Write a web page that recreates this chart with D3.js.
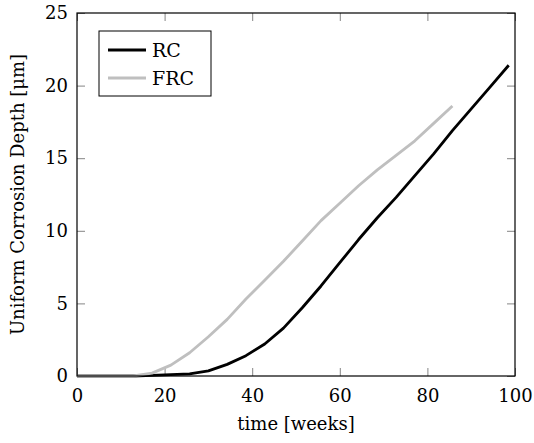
<!DOCTYPE html>
<html>
<head>
    <meta charset="utf-8">
    <title>Uniform Corrosion Depth</title>
    <script src="https://d3js.org/d3.v7.min.js" charset="utf-8"></script>
    <style type="text/css">
        body {
            margin: 0;
            background: #fff;
        }
        .line {
            fill: none;
            stroke-width: 2.8px;
            stroke-linejoin: round;
        }
    </style>
</head>
<body>
<script type="text/javascript">
    // time in weeks (one sample every 30 days)
    var weeksRC = [0, 4.29, 8.57, 12.86, 17.14, 21.43, 25.71, 30, 34.29, 38.57, 42.86, 47.14,
        51.43, 55.71, 60, 64.29, 68.57, 72.86, 77.14, 81.43, 85.71, 90, 94.29, 98.57];
    var depthRC = [0, 0, 0, 0, 0.05, 0.1, 0.15, 0.35, 0.8, 1.4, 2.2, 3.3,
        4.7, 6.2, 7.8, 9.4, 10.9, 12.3, 13.8, 15.3, 16.9, 18.4, 19.9, 21.4];

    var weeksFRC = weeksRC.slice(0, 21);
    var depthFRC = [0, 0, 0, 0, 0.2, 0.75, 1.6, 2.7, 3.9, 5.3, 6.6, 7.9,
        9.3, 10.7, 11.9, 13.1, 14.2, 15.2, 16.2, 17.4, 18.6];

    var xTicks = [0, 20, 40, 60, 80, 100];
    var yTicks = [0, 5, 10, 15, 20, 25];

    var series = [
        { name: "RC", color: "#000000", x: weeksRC, y: depthRC },
        { name: "FRC", color: "#bfbfbf", x: weeksFRC, y: depthFRC }
    ];

    var FONT = "DejaVu Serif";
    var FS = 18;

    var margin = { top: 13, right: 19, bottom: 67, left: 77 },
        width = 534 - margin.left - margin.right,
        height = 443 - margin.top - margin.bottom;

    var x = d3.scaleLinear().domain([0, 100]).range([0, width]);
    var y = d3.scaleLinear().domain([0, 25]).range([height, 0]);

    var svg = d3.select("body").append("svg")
        .attr("width", 534)
        .attr("height", 443)
        .attr("font-family", FONT);

    var g = svg.append("g")
        .attr("transform", "translate(" + margin.left + "," + margin.top + ")");

    var tickLen = 8;

    // bottom + left axes, ticks pointing inward
    g.append("g")
        .attr("transform", "translate(0," + height + ")")
        .call(d3.axisBottom(x).tickValues(xTicks).tickSize(-tickLen).tickPadding(13));
    g.append("g")
        .call(d3.axisLeft(y).tickValues(yTicks).tickSize(-tickLen).tickPadding(9));

    // mirrored ticks on top and right
    g.append("g")
        .call(d3.axisTop(x).tickValues(xTicks).tickSize(-tickLen).tickFormat(""));
    g.append("g")
        .attr("transform", "translate(" + width + ",0)")
        .call(d3.axisRight(y).tickValues(yTicks).tickSize(-tickLen).tickFormat(""));

    g.selectAll(".domain").remove();
    g.selectAll(".tick line").attr("stroke", "#777").attr("stroke-width", 0.9);
    g.selectAll(".tick text")
        .attr("fill", "#000")
        .attr("font-family", FONT)
        .attr("font-size", FS);

    var line = d3.line()
        .x(function (d) { return x(d[0]); })
        .y(function (d) { return y(d[1]); });

    series.forEach(function (s) {
        g.append("path")
            .datum(d3.zip(s.x, s.y))
            .attr("class", "line")
            .attr("stroke", s.color)
            .attr("d", line);
    });

    // frame
    g.append("rect")
        .attr("width", width)
        .attr("height", height)
        .attr("fill", "none")
        .attr("stroke", "#000")
        .attr("stroke-width", 1.2);

    // legend
    var legend = g.append("g")
        .attr("transform", "translate(22,18)");
    legend.append("rect")
        .attr("width", 112)
        .attr("height", 65)
        .attr("fill", "#fff")
        .attr("stroke", "#000")
        .attr("stroke-width", 1);
    series.forEach(function (s, i) {
        var ly = 19 + i * 28;
        legend.append("line")
            .attr("x1", 9).attr("x2", 47)
            .attr("y1", ly).attr("y2", ly)
            .attr("stroke", s.color)
            .attr("stroke-width", 2.8);
        legend.append("text")
            .attr("x", 53)
            .attr("y", ly + 7)
            .attr("font-size", FS + 1)
            .text(s.name);
    });

    // axis labels
    svg.append("text")
        .attr("x", margin.left + width / 2)
        .attr("y", 430)
        .attr("text-anchor", "middle")
        .attr("font-size", FS)
        .text("time [weeks]");

    svg.append("text")
        .attr("transform", "translate(24," + (margin.top + height / 2) + ") rotate(-90)")
        .attr("text-anchor", "middle")
        .attr("font-size", FS)
        .text("Uniform Corrosion Depth [μm]");
</script>
</body>
</html>
